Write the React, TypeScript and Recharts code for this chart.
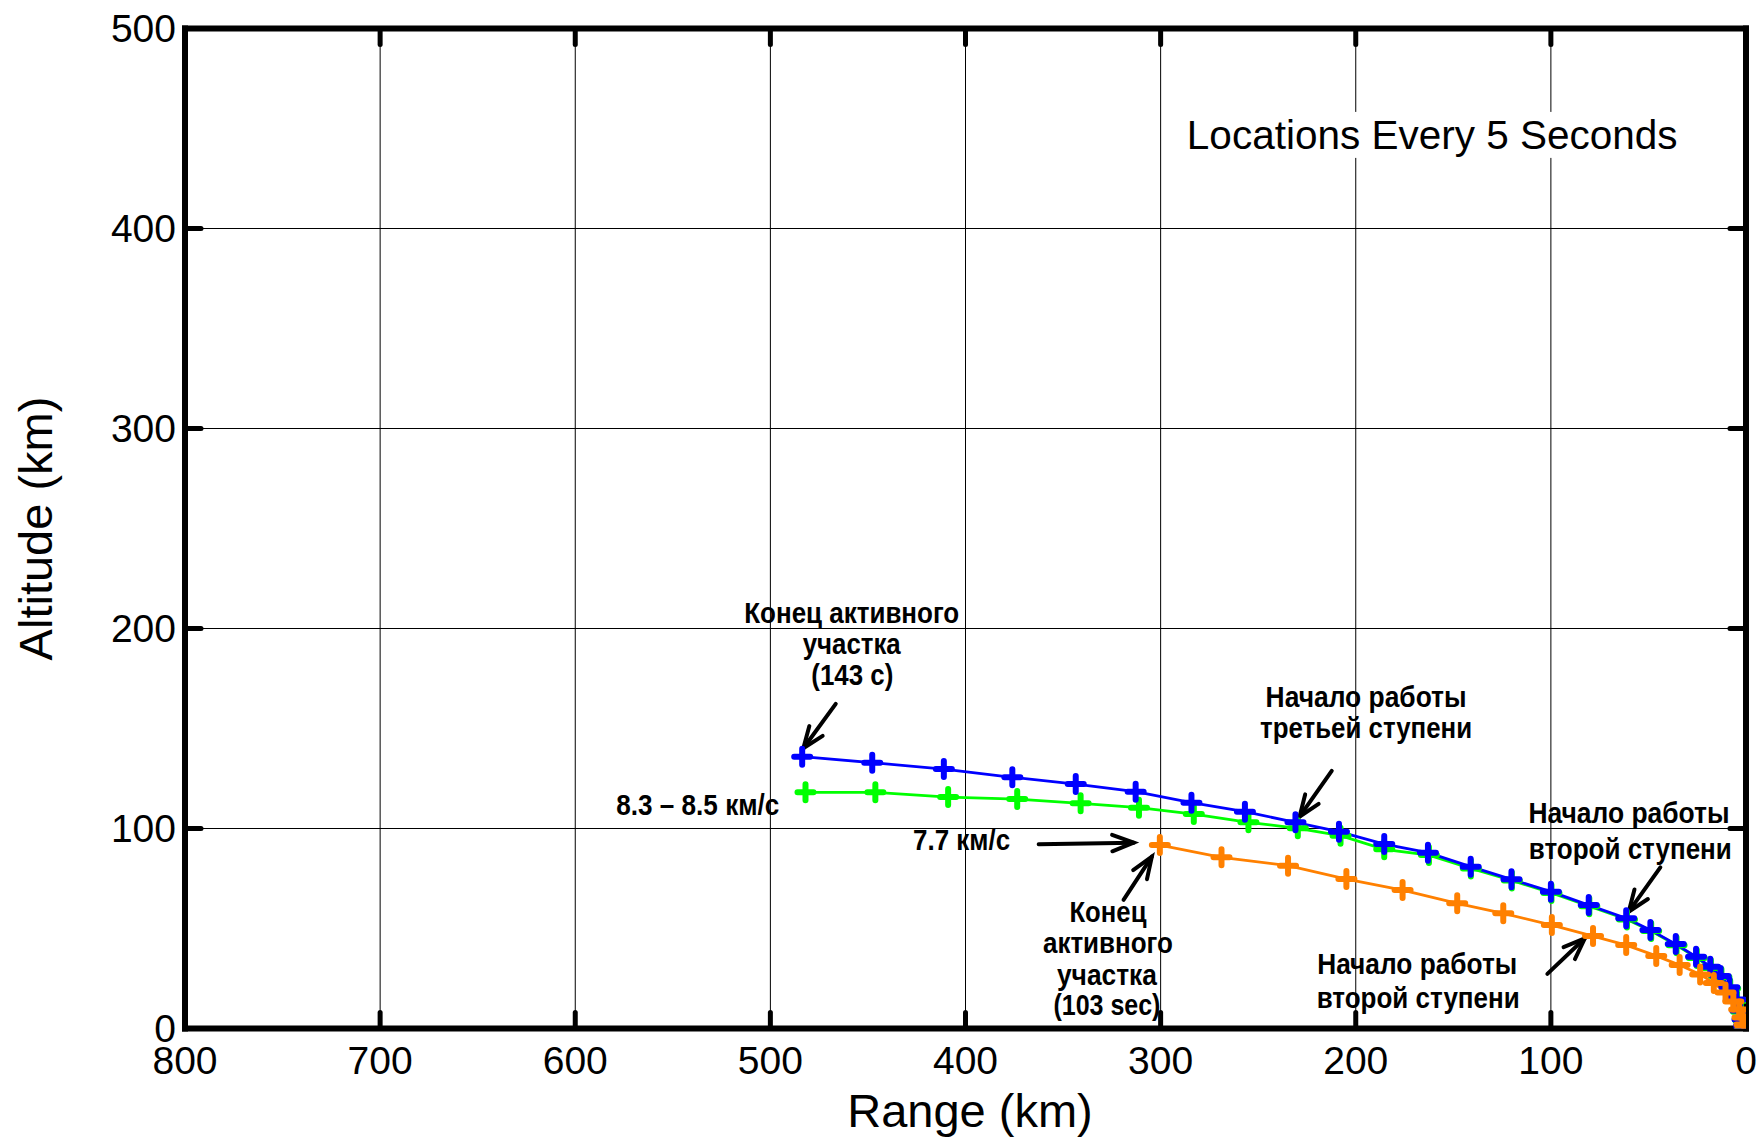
import React from 'react';
import {
  LineChart,
  Line,
  XAxis,
  YAxis,
  CartesianGrid,
  ReferenceLine,
  ReferenceDot,
  ReferenceArea,
  Customized,
} from 'recharts';

// ---- Data (range km, altitude km), points every 5 seconds ----
const blueRange = [483.7, 447.8, 411.1, 376.0, 343.5, 312.8, 284.2, 256.8, 230.9, 208.6, 185.4, 163.0, 141.1, 120.2, 100.0, 80.6, 61.4, 49.0, 36.0, 25.6, 18.3, 13.0, 8.5, 5.0, 3.0, 1.8, 1.0, 0.8];
const blueAlt = [135.9, 132.9, 129.7, 125.6, 122.2, 118.4, 112.9, 108.4, 103.1, 98.4, 92.2, 87.9, 80.9, 74.6, 68.4, 61.7, 55.1, 49.2, 42.2, 35.9, 30.9, 26.3, 20.6, 14.5, 9.0, 4.5, 1.5, 0];

const greenRange = [482.0, 446.2, 408.9, 373.5, 341.0, 311.1, 283.0, 255.0, 229.7, 207.8, 185.4, 162.5, 141.0, 120.0, 99.7, 80.3, 61.0, 48.6, 35.6, 25.2, 18.0, 12.6, 8.1, 4.6, 2.6, 1.4, 0.6, 0.4];
const greenAlt = [118.1, 118.1, 115.7, 114.7, 112.6, 110.4, 107.2, 103.1, 100.1, 96.4, 89.6, 86.7, 80.0, 74.0, 67.8, 61.1, 54.5, 48.7, 41.6, 35.3, 30.3, 25.7, 20.0, 13.9, 8.4, 4.0, 1.0, 0];

const orangeRange = [300.4, 268.8, 234.7, 204.8, 176.0, 148.0, 124.4, 99.5, 78.4, 61.4, 46.0, 34.0, 23.5, 16.5, 10.5, 6.5, 3.5, 1.8, 0.8, 0.3];
const orangeAlt = [91.7, 85.6, 81.4, 74.7, 69.2, 62.6, 57.6, 51.7, 46.2, 41.7, 36.3, 31.7, 27.0, 22.8, 18.0, 13.5, 9.5, 5.5, 2.0, 0];

const xTicks = [0, 100, 200, 300, 400, 500, 600, 700, 800];
const yTicks = [0, 100, 200, 300, 400, 500];

const xLabel = 'Range (km)';
const yLabel = 'Altitude (km)';
const noteText = 'Locations Every 5 Seconds';

// annotation text lines: [text, range anchor, altitude baseline anchor, rendered width]
const annotationLines: [string, number, number, number][] = [
  ['Конец активного', 458.3, 202.6, 215],
  ['участка', 458.3, 187.3, 98],
  ['(143 с)', 458.0, 171.8, 82],
  ['8.3 – 8.5 км/с', 537.2, 106.8, 163],
  ['7.7 км/с', 402.0, 89.3, 97],
  ['Конец', 327.0, 53.4, 77],
  ['активного', 327.0, 37.9, 130],
  ['участка', 327.5, 21.8, 100],
  ['(103 sec)', 327.5, 6.8, 107],
  ['Начало работы', 194.7, 160.9, 201],
  ['третьей ступени', 194.7, 145.3, 212],
  ['Начало работы', 60.0, 103.0, 201],
  ['второй ступени', 59.3, 85.0, 203],
  ['Начало работы', 168.5, 27.3, 200],
  ['второй ступени', 168.0, 10.3, 203],
];

// arrows: tail (x, y) -> head (x, y) in data units
const arrows: [number, number, number, number][] = [
  [466.5, 162.3, 483.1, 140.1],
  [362.5, 92.1, 313.8, 92.9],
  [319.0, 64.3, 304.5, 85.9],
  [212.3, 128.8, 228.8, 105.9],
  [43.9, 80.6, 60.1, 58.4],
  [101.8, 27.3, 82.6, 45.1],
];

const toPoints = (xs: number[], ys: number[]) => xs.map((x, i) => ({ x, y: ys[i] }));
const blueData = toPoints(blueRange, blueAlt);
const greenData = toPoints(greenRange, greenAlt);
const orangeData = toPoints(orangeRange, orangeAlt);

const FONT = "'Liberation Sans', Arial, Helvetica, sans-serif";
const BLUE = '#0000ff';
const GREEN = '#00ff00';
const ORANGE = '#ff8000';

const plusDot = (color: string) => (props: any) => {
  const { cx, cy, index } = props;
  if (cx == null || cy == null) return <g key={`n${index}`} />;
  const h = 8;
  return (
    <path
      key={`p${index}`}
      d={`M${cx - h},${cy}H${cx + h}M${cx},${cy - h}V${cy + h}`}
      stroke={color}
      strokeWidth={6}
      strokeLinecap="round"
      fill="none"
    />
  );
};

const XTick = (props: any) => {
  const { x, y, payload } = props;
  return (
    <text x={x} y={y + 45.5} textAnchor="middle" fontSize={39} fontFamily={FONT} fill="#000">
      {payload.value}
    </text>
  );
};

const YTick = (props: any) => {
  const { x, y, payload } = props;
  return (
    <text x={x - 9} y={y + 13} textAnchor="end" fontSize={39} fontFamily={FONT} fill="#000">
      {payload.value}
    </text>
  );
};

const arrowShape = (props: any) => {
  const { x1, y1, x2, y2 } = props;
  if ([x1, y1, x2, y2].some((v) => v == null || isNaN(v))) return <g />;
  const ang = Math.atan2(y2 - y1, x2 - x1);
  const L = 23;
  const a = (21 * Math.PI) / 180;
  const wx1 = x2 - L * Math.cos(ang - a);
  const wy1 = y2 - L * Math.sin(ang - a);
  const wx2 = x2 - L * Math.cos(ang + a);
  const wy2 = y2 - L * Math.sin(ang + a);
  return (
    <g>
      <line x1={x1} y1={y1} x2={x2} y2={y2} stroke="#000" strokeWidth={4} strokeLinecap="round" />
      <path
        d={`M${wx1},${wy1}L${x2},${y2}L${wx2},${wy2}`}
        stroke="#000"
        strokeWidth={4}
        fill="none"
        strokeLinecap="round"
        strokeLinejoin="miter"
      />
    </g>
  );
};

const AxisTitles = () => (
  <g>
    <text x={970} y={1126.5} textAnchor="middle" fontSize={47} fontFamily={FONT} fill="#000">
      {xLabel}
    </text>
    <text
      x={52}
      y={528.5}
      transform="rotate(-90 52 528.5)"
      textAnchor="middle"
      fontSize={47}
      fontFamily={FONT}
      fill="#000"
    >
      {yLabel}
    </text>
  </g>
);

export default function App() {
  return (
    <div style={{ position: 'absolute', left: 0, top: 0, width: 1762, height: 1140, background: '#fff' }}>
      <LineChart width={1762} height={1140} margin={{ top: 28.5, right: 16, bottom: 0, left: 0 }}>
        <CartesianGrid stroke="#000" strokeWidth={1} />
        <XAxis
          type="number"
          dataKey="x"
          domain={[0, 800]}
          reversed
          ticks={xTicks}
          interval={0}
          allowDataOverflow
          tickLine={false}
          axisLine={false}
          tickSize={0}
          tickMargin={0}
          height={111.5}
          tick={<XTick />}
        />
        <YAxis
          type="number"
          domain={[0, 500]}
          ticks={yTicks}
          interval={0}
          allowDataOverflow
          tickLine={false}
          axisLine={false}
          tickSize={0}
          tickMargin={0}
          width={185}
          tick={<YTick />}
        />
        <ReferenceArea
          x1={288.5}
          x2={33.1}
          y1={435.3}
          y2={458.3}
          ifOverflow="visible"
          shape={(p: any) => (
            <g>
              <rect x={p.x} y={p.y} width={p.width} height={p.height} fill="#fff" />
              <text
                x={p.x + p.width / 2}
                y={p.y + 37}
                textAnchor="middle"
                fontSize={40.5}
                fontFamily={FONT}
                fill="#000"
              >
                {noteText}
              </text>
            </g>
          )}
        />
        {/* frame */}
        <ReferenceLine y={0} stroke="#000" strokeWidth={6} strokeLinecap="square" ifOverflow="visible" />
        <ReferenceLine y={500} stroke="#000" strokeWidth={6} strokeLinecap="square" ifOverflow="visible" />
        <ReferenceLine x={0} stroke="#000" strokeWidth={6} strokeLinecap="square" ifOverflow="visible" />
        <ReferenceLine x={800} stroke="#000" strokeWidth={6} strokeLinecap="square" ifOverflow="visible" />
        {xTicks.slice(1, -1).map((t) => (
          <ReferenceLine
            key={`bt${t}`}
            segment={[{ x: t, y: 0 }, { x: t, y: 8 }]}
            stroke="#000"
            strokeWidth={5}
            strokeLinecap="round"
            ifOverflow="visible"
          />
        ))}
        {xTicks.slice(1, -1).map((t) => (
          <ReferenceLine
            key={`tt${t}`}
            segment={[{ x: t, y: 500 }, { x: t, y: 492 }]}
            stroke="#000"
            strokeWidth={5}
            strokeLinecap="round"
            ifOverflow="visible"
          />
        ))}
        {yTicks.slice(1, -1).map((t) => (
          <ReferenceLine
            key={`lt${t}`}
            segment={[{ x: 800, y: t }, { x: 791.8, y: t }]}
            stroke="#000"
            strokeWidth={5}
            strokeLinecap="round"
            ifOverflow="visible"
          />
        ))}
        {yTicks.slice(1, -1).map((t) => (
          <ReferenceLine
            key={`rt${t}`}
            segment={[{ x: 0, y: t }, { x: 8.2, y: t }]}
            stroke="#000"
            strokeWidth={5}
            strokeLinecap="round"
            ifOverflow="visible"
          />
        ))}
        <Line
          data={greenData}
          dataKey="y"
          type="linear"
          stroke={GREEN}
          strokeWidth={2.8}
          dot={plusDot(GREEN)}
          activeDot={false}
          isAnimationActive={false}
        />
        <Line
          data={blueData}
          dataKey="y"
          type="linear"
          stroke={BLUE}
          strokeWidth={2.8}
          dot={plusDot(BLUE)}
          activeDot={false}
          isAnimationActive={false}
        />
        <Line
          data={orangeData}
          dataKey="y"
          type="linear"
          stroke={ORANGE}
          strokeWidth={2.8}
          dot={plusDot(ORANGE)}
          activeDot={false}
          isAnimationActive={false}
        />
        {arrows.map((a, i) => (
          <ReferenceLine
            key={`ar${i}`}
            segment={[{ x: a[0], y: a[1] }, { x: a[2], y: a[3] }]}
            ifOverflow="visible"
            shape={arrowShape}
          />
        ))}
        {annotationLines.map((l, i) => (
          <ReferenceDot
            key={`an${i}`}
            x={l[1]}
            y={l[2]}
            r={0}
            ifOverflow="visible"
            shape={(p: any) => (
              <text
                x={p.cx}
                y={p.cy}
                textAnchor="middle"
                fontSize={29}
                fontWeight="bold"
                fontFamily={FONT}
                textLength={l[3]}
                lengthAdjust="spacingAndGlyphs"
                fill="#000"
              >
                {l[0]}
              </text>
            )}
          />
        ))}
        <Customized component={<AxisTitles />} />
      </LineChart>
    </div>
  );
}
